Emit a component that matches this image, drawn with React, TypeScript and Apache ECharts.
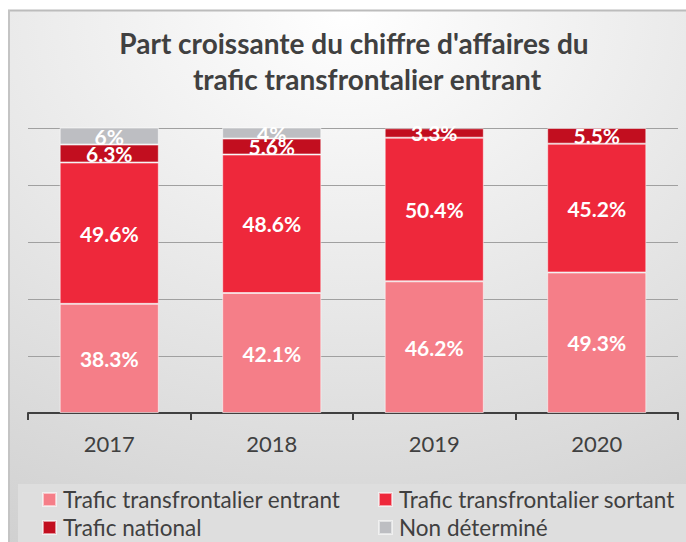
import React, { useEffect, useRef } from "react";
import * as echarts from "echarts";

const categories = ["2017", "2018", "2019", "2020"];
const seriesNames = [
  "Trafic transfrontalier entrant",
  "Trafic transfrontalier sortant",
  "Trafic national",
  "Non déterminé",
];
const entrant = [38.3, 42.1, 46.2, 49.3];
const sortant = [49.6, 48.6, 50.4, 45.2];
const national = [6.3, 5.6, 3.3, 5.5];
const nonDetermine: (number | null)[] = [6, 4, null, null];
const colors = ["#F57E88", "#EE283B", "#C20E1F", "#BDBEC2"];
const titleLines = [
  "Part croissante du chiffre d'affaires du",
  "trafic transfrontalier entrant",
];

const FONT = "Lato, 'Open Sans', sans-serif";

export default function App() {
  const ref = useRef<HTMLDivElement>(null);
  useEffect(() => {
    if (!ref.current) return;
    const chart = echarts.init(ref.current, undefined, { renderer: "svg" });
    const values = [entrant, sortant, national, nonDetermine];
    const legendPos = [
      { left: 42, top: 488 },
      { left: 378, top: 488 },
      { left: 42, top: 516 },
      { left: 378, top: 516 },
    ];
    const titlePos = [
      { x: 354, y: 43 },
      { x: 367, y: 79 },
    ];
    chart.setOption({
      animation: false,
      backgroundColor: "#ffffff",
      graphic: [
        {
          type: "rect",
          z: -10,
          shape: { x: 8, y: 10, width: 678, height: 532 },
          style: {
            fill: new echarts.graphic.RadialGradient(0.5, 0, 1.15, [
              { offset: 0, color: "#ffffff" },
              { offset: 1, color: "#cfcfcf" },
            ]),
          },
        },
        {
          type: "line",
          z: -9,
          shape: { x1: 8, y1: 10.5, x2: 686, y2: 10.5 },
          style: { stroke: "#bcbcbc", lineWidth: 2 },
        },
        {
          type: "line",
          z: -9,
          shape: { x1: 9, y1: 10, x2: 9, y2: 542 },
          style: { stroke: "#c4c4c4", lineWidth: 2 },
        },
        {
          type: "rect",
          z: -8,
          shape: { x: 18, y: 484, width: 668, height: 58 },
          style: { fill: "#dedede" },
        },
        ...titleLines.map((t, i) => ({
          type: "text",
          z: 5,
          x: titlePos[i].x,
          y: titlePos[i].y,
          style: {
            text: t,
            fill: "#404040",
            font: `bold 28px ${FONT}`,
            align: "center",
            verticalAlign: "middle",
          },
        })),
      ],
      legend: seriesNames.map((n, i) => ({
        data: [n],
        left: legendPos[i].left,
        top: legendPos[i].top,
        padding: 0,
        icon: "rect",
        itemWidth: 13,
        itemHeight: 13,
        selectedMode: false,
        textStyle: { color: "#404040", fontSize: 22.5, fontFamily: FONT, padding: [0, 0, 0, 2] },
      })),
      grid: { left: 28, right: 8, top: 128, bottom: 129 },
      xAxis: {
        type: "category",
        data: categories,
        axisLine: { lineStyle: { color: "#404040", width: 2 } },
        axisTick: { show: true, length: 7, lineStyle: { color: "#404040", width: 2 } },
        axisLabel: { color: "#404040", fontSize: 22, fontFamily: FONT, margin: 19 },
      },
      yAxis: {
        type: "value",
        min: 0,
        max: 100,
        interval: 20,
        axisLabel: { show: false },
        axisLine: { show: false },
        axisTick: { show: false },
        splitLine: { lineStyle: { color: "#a0a0a0", width: 1 } },
      },
      series: seriesNames.map((n, i) => ({
        name: n,
        type: "bar",
        stack: "total",
        barWidth: "61%",
        data: values[i],
        itemStyle: {
          color: colors[i],
          borderColor: "rgba(255,255,255,0.55)",
          borderWidth: 1,
        },
        label: {
          show: true,
          position: "inside",
          formatter: "{c}%",
          color: "#ffffff",
          fontSize: 21,
          fontWeight: "bold",
          fontFamily: FONT,
        },
      })),
    });
    return () => chart.dispose();
  }, []);
  return (
    <div
      ref={ref}
      style={{ position: "absolute", left: 0, top: 0, width: 686, height: 542 }}
    />
  );
}
